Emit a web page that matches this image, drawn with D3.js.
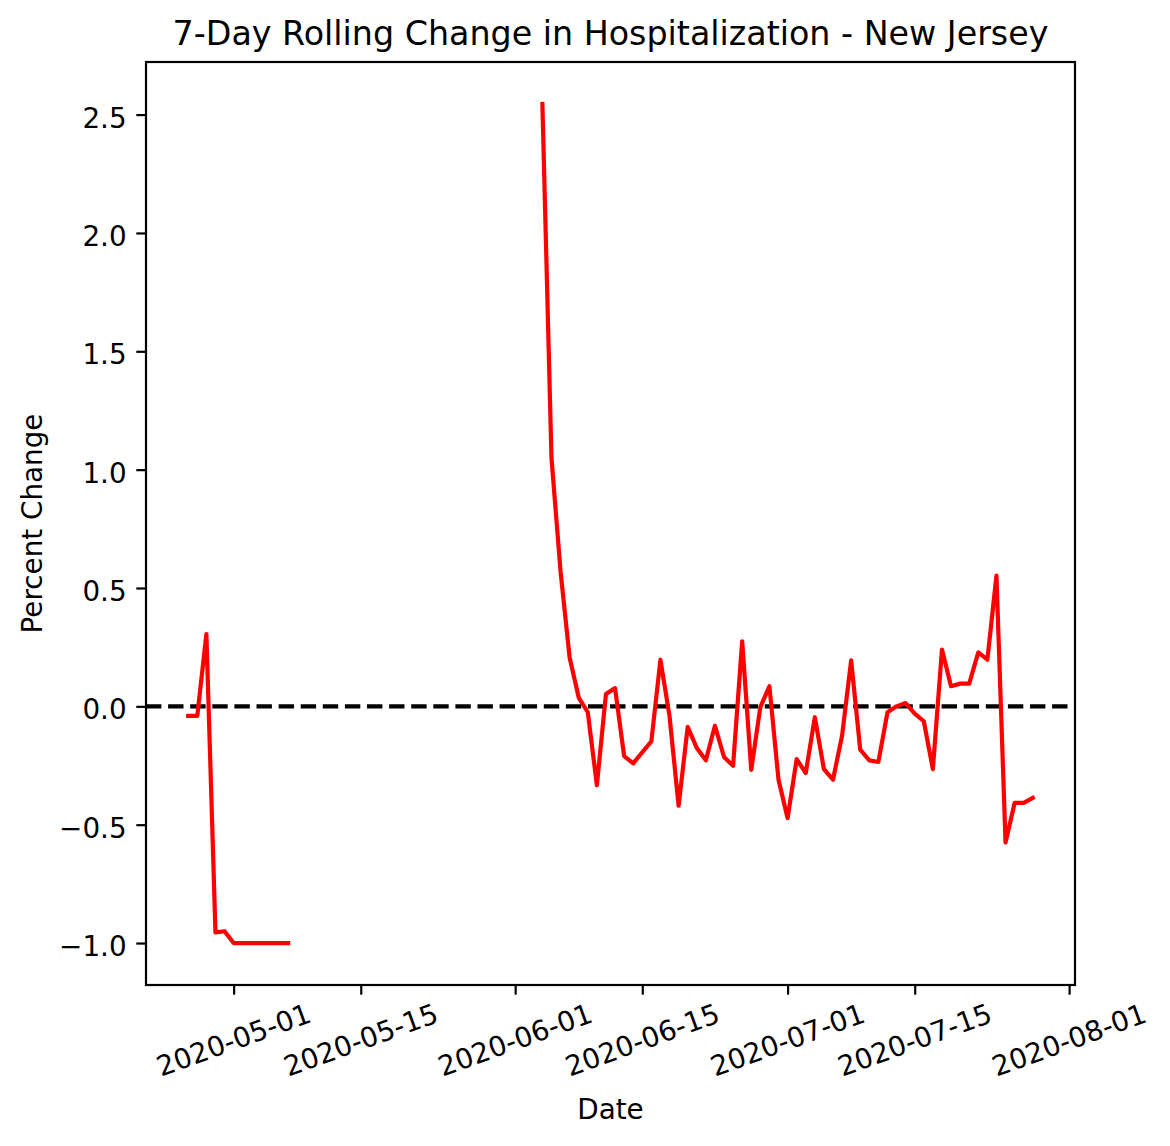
<!DOCTYPE html>
<html>
<head>
<meta charset="utf-8">
<script src="https://cdn.jsdelivr.net/npm/d3@7"></script>
<style>
  html, body { margin: 0; padding: 0; background: #fff; }
  svg { display: block; font-family: "DejaVu Sans", sans-serif; }
</style>
</head>
<body>
<svg id="chart" width="1170" height="1146"></svg>
<script>
// ---- data ----
const dates = [
  "2020-04-26","2020-04-27","2020-04-28","2020-04-29","2020-04-30",
  "2020-05-01","2020-05-02","2020-05-03","2020-05-04","2020-05-05","2020-05-06","2020-05-07",
  "2020-05-08","2020-05-09","2020-05-10","2020-05-11","2020-05-12","2020-05-13","2020-05-14",
  "2020-05-15","2020-05-16","2020-05-17","2020-05-18","2020-05-19","2020-05-20","2020-05-21",
  "2020-05-22","2020-05-23","2020-05-24","2020-05-25","2020-05-26","2020-05-27","2020-05-28",
  "2020-05-29","2020-05-30","2020-05-31",
  "2020-06-01","2020-06-02","2020-06-03","2020-06-04","2020-06-05","2020-06-06","2020-06-07",
  "2020-06-08","2020-06-09","2020-06-10","2020-06-11","2020-06-12","2020-06-13","2020-06-14",
  "2020-06-15","2020-06-16","2020-06-17","2020-06-18","2020-06-19","2020-06-20","2020-06-21",
  "2020-06-22","2020-06-23","2020-06-24","2020-06-25","2020-06-26","2020-06-27","2020-06-28",
  "2020-06-29","2020-06-30",
  "2020-07-01","2020-07-02","2020-07-03","2020-07-04","2020-07-05","2020-07-06","2020-07-07",
  "2020-07-08","2020-07-09","2020-07-10","2020-07-11","2020-07-12","2020-07-13","2020-07-14",
  "2020-07-15","2020-07-16","2020-07-17","2020-07-18","2020-07-19","2020-07-20","2020-07-21",
  "2020-07-22","2020-07-23","2020-07-24","2020-07-25","2020-07-26","2020-07-27","2020-07-28"
];
const pctChange = [
  -0.04, -0.04, 0.305, -0.955, -0.95,
  -1.0, -1.0, -1.0, -1.0, -1.0, -1.0, -1.0,
  null, null, null, null, null, null, null,
  null, null, null, null, null, null, null,
  null, null, null, null, null, null, null,
  null, null, null,
  null, null, null, 2.545, 1.05, 0.57, 0.205,
  0.037, -0.025, -0.333, 0.052, 0.077, -0.21, -0.241,
  -0.194, -0.148, 0.197, -0.042, -0.42, -0.087, -0.176,
  -0.228, -0.082, -0.214, -0.251, 0.275, -0.268, -0.003,
  0.085, -0.31,
  -0.472, -0.223, -0.282, -0.046, -0.265, -0.31, -0.124,
  0.194, -0.183, -0.228, -0.235, -0.025, 0.0, 0.014,
  -0.031, -0.063, -0.265, 0.24, 0.085, 0.096, 0.096,
  0.228, 0.197, 0.552, -0.575, -0.408, -0.408, -0.387
];
const xTickLabels = ["2020-05-01","2020-05-15","2020-06-01","2020-06-15","2020-07-01","2020-07-15","2020-08-01"];
const yTicks = [-1.0, -0.5, 0.0, 0.5, 1.0, 1.5, 2.0, 2.5];
const titleText = "7-Day Rolling Change in Hospitalization - New Jersey";
const xLabelText = "Date";
const yLabelText = "Percent Change";

// ---- layout ----
const L = 146, R = 1075, T = 62, B = 985;
const tickFont = 27.8, titleFont = 33.3;
const tickLen = 9.7, tickPad = 9.7;

const parse = d3.utcParse("%Y-%m-%d");
const data = dates.map((d, i) => ({ date: parse(d), v: pctChange[i] }));

const xMin = d3.min(data, d => d.date), xMax = d3.max(data, d => d.date);
const xSpan = xMax - xMin;
const x = d3.scaleUtc()
  .domain([new Date(+xMin - 0.05 * xSpan), new Date(+xMax + 0.05 * xSpan)])
  .range([L, R]);

const vals = pctChange.filter(v => v != null);
const yMin = d3.min(vals), yMax = d3.max(vals), ySpan = yMax - yMin;
const y = d3.scaleLinear()
  .domain([yMin - 0.05 * ySpan, yMax + 0.05 * ySpan])
  .range([B, T]);

const svg = d3.select("#chart");
svg.append("rect").attr("width", 1170).attr("height", 1146).attr("fill", "#fff");

const fmtY = v => (v < 0 ? "\u2212" : "") + Math.abs(v).toFixed(1);

// clip
svg.append("clipPath").attr("id", "clip")
  .append("rect").attr("x", L).attr("y", T).attr("width", R - L).attr("height", B - T);

// zero dashed line
svg.append("line")
  .attr("x1", L).attr("x2", R)
  .attr("y1", y(0)).attr("y2", y(0))
  .attr("stroke", "#000").attr("stroke-width", 4.2)
  .attr("stroke-dasharray", "15.4,6.7");

// data line
const line = d3.line()
  .defined(d => d.v != null)
  .x(d => x(d.date))
  .y(d => y(d.v));
svg.append("path")
  .datum(data)
  .attr("clip-path", "url(#clip)")
  .attr("fill", "none")
  .attr("stroke", "#ff0000")
  .attr("stroke-width", 4.2)
  .attr("stroke-linejoin", "round")
  .attr("stroke-linecap", "square")
  .attr("d", line);

// Y axis
const yAxis = d3.axisLeft(y)
  .tickValues(yTicks)
  .tickSize(tickLen)
  .tickPadding(tickPad)
  .tickFormat(fmtY);
const gy = svg.append("g").attr("transform", `translate(${L},0)`).call(yAxis);
gy.select(".domain").remove();
gy.selectAll(".tick line").attr("stroke", "#000").attr("stroke-width", 2.2);
gy.selectAll(".tick text")
  .attr("font-family", "DejaVu Sans")
  .attr("font-size", tickFont)
  .attr("fill", "#000")
  .attr("dy", "0.45em");

// X axis
const xTickDates = xTickLabels.map(parse);
const xAxis = d3.axisBottom(x)
  .tickValues(xTickDates)
  .tickSize(tickLen)
  .tickFormat("");
const gx = svg.append("g").attr("transform", `translate(0,${B})`).call(xAxis);
gx.select(".domain").remove();
gx.selectAll(".tick line").attr("stroke", "#000").attr("stroke-width", 2.2);

svg.append("g").selectAll("text")
  .data(xTickDates)
  .join("text")
  .attr("transform", d => `translate(${x(d)},1040) rotate(-20)`)
  .attr("text-anchor", "middle")
  .attr("dy", "0.35em")
  .attr("font-family", "DejaVu Sans")
  .attr("font-size", tickFont)
  .attr("fill", "#000")
  .text((d, i) => xTickLabels[i]);

// frame
svg.append("rect")
  .attr("x", L).attr("y", T).attr("width", R - L).attr("height", B - T)
  .attr("fill", "none").attr("stroke", "#000").attr("stroke-width", 2.2);

// title & labels
svg.append("text")
  .attr("x", (L + R) / 2).attr("y", 45)
  .attr("text-anchor", "middle")
  .attr("font-family", "DejaVu Sans")
  .attr("font-size", titleFont)
  .attr("fill", "#000")
  .text(titleText);

svg.append("text")
  .attr("x", (L + R) / 2).attr("y", 1119)
  .attr("text-anchor", "middle")
  .attr("font-family", "DejaVu Sans")
  .attr("font-size", tickFont)
  .attr("fill", "#000")
  .text(xLabelText);

svg.append("text")
  .attr("transform", `translate(42,${(T + B) / 2}) rotate(-90)`)
  .attr("text-anchor", "middle")
  .attr("font-family", "DejaVu Sans")
  .attr("font-size", tickFont)
  .attr("fill", "#000")
  .text(yLabelText);
</script>
</body>
</html>
